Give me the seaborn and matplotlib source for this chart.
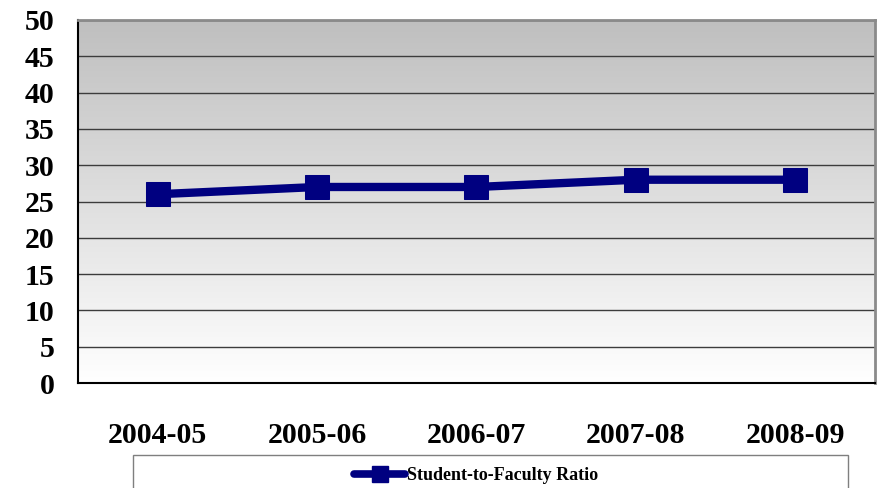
import numpy as np
import pandas as pd
import matplotlib
matplotlib.use("Agg")
import matplotlib.pyplot as plt
import seaborn as sns
from matplotlib.patches import Rectangle

years = ["2004-05", "2005-06", "2006-07", "2007-08", "2008-09"]
ratio = [26, 27, 27, 28, 28]
series_name = "Student-to-Faculty Ratio"

df = pd.DataFrame({"Year": years, "Ratio": ratio})

sns.set_style("white")
plt.rcParams["font.family"] = ["Liberation Serif", "DejaVu Serif"]
plt.rcParams["font.weight"] = "bold"
plt.rcParams["text.color"] = "black"
plt.rcParams["xtick.color"] = "black"
plt.rcParams["ytick.color"] = "black"

fig = plt.figure(figsize=(8.78, 4.88), dpi=100)
ax = fig.add_axes([78 / 878, 1 - 383 / 488, (875 - 78) / 878, (383 - 20) / 488])

# vertical gray-to-white gradient background
grad = np.linspace(0, 1, 256).reshape(-1, 1)
cmap = matplotlib.colors.LinearSegmentedColormap.from_list("bg", ["#bfbfbf", "#ffffff"])
ax.imshow(grad, aspect="auto", cmap=cmap, extent=(-0.5, 4.5, 0, 50),
          origin="upper", zorder=0)

navy = "#000080"
sns.lineplot(data=df, x="Year", y="Ratio", ax=ax, color=navy, linewidth=6,
             marker="s", markersize=17.5, markeredgecolor=navy,
             zorder=3, legend=False)

ax.set_xlim(-0.5, 4.5)
ax.set_ylim(0, 50)
ax.set_yticks(range(0, 51, 5))
ax.yaxis.grid(True, color="#3c3c3c", linewidth=1.0)
for ln in ax.get_ygridlines():
    ln.set_zorder(1)
ax.set_xlabel("")
ax.set_ylabel("")

ax.set_xticks(range(5))
ax.set_xticklabels(years)
ax.set_xticks(np.arange(-0.5, 5, 1), minor=True)
ax.tick_params(axis="x", which="major", length=0, pad=28, labelsize=21.5,
               labelcolor="black")
ax.tick_params(axis="x", which="minor", length=7, width=1, color="#333333", direction="out")
ax.tick_params(axis="y", length=7, width=1, color="#333333", direction="out",
               pad=10, labelsize=21.5, labelcolor="black")
for lab in ax.get_xticklabels() + ax.get_yticklabels():
    lab.set_fontweight("bold")

for side in ["left", "bottom"]:
    ax.spines[side].set_color("#000000")
    ax.spines[side].set_linewidth(1.5)
for side in ["top", "right"]:
    ax.spines[side].set_color("#8a8a8a")
    ax.spines[side].set_linewidth(2)
    ax.spines[side].set_visible(True)

# legend box along the bottom
fig.patches.append(Rectangle((133 / 878, -0.05), (848 - 133) / 878, (0.05 + 1 - 455 / 488),
                             transform=fig.transFigure, facecolor="white",
                             edgecolor="#7f7f7f", linewidth=1.0))
handle = matplotlib.lines.Line2D([], [], color=navy, linewidth=5.5, marker="s",
                                 markersize=11, markeredgecolor=navy)
fig.legend([handle], [series_name], loc="center", bbox_to_anchor=(476 / 878, 1 - 476 / 488),
           frameon=False, prop={"weight": "bold", "size": 13}, handlelength=2.8,
           handletextpad=0.1)

fig.savefig("out.png", dpi=100)
